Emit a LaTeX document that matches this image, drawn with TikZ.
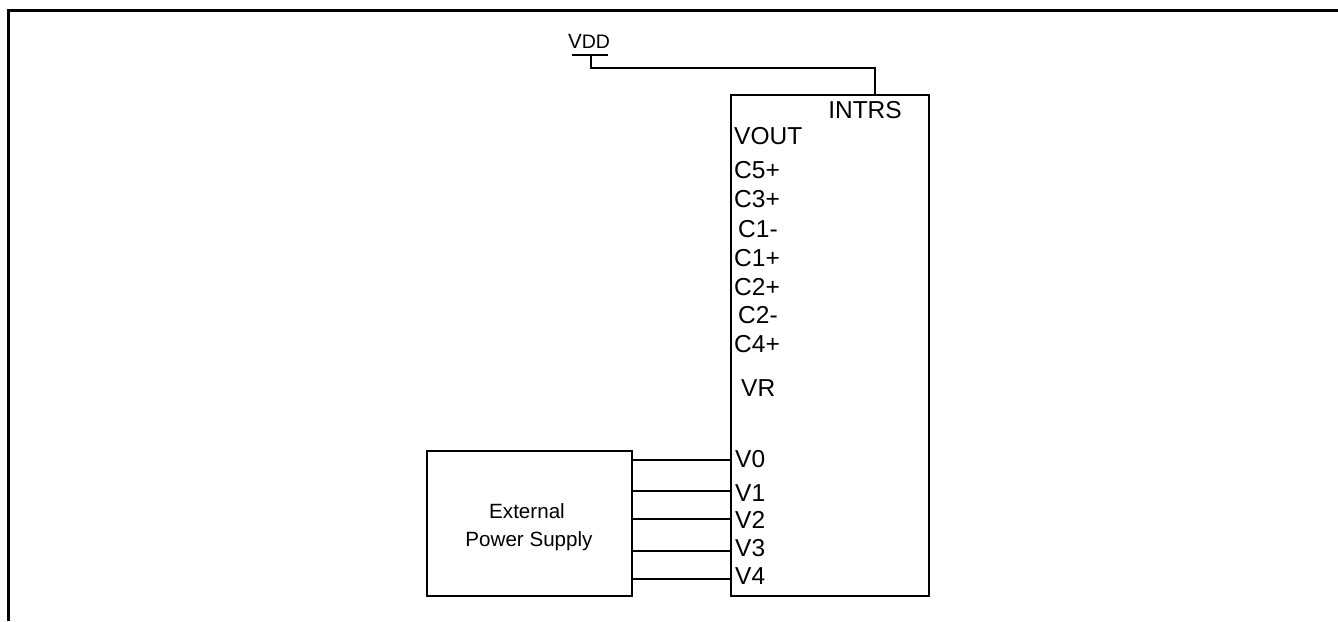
\documentclass[tikz,border=0pt]{standalone}
\usepackage{fontspec}
\setmainfont{Liberation Sans}
\begin{document}
\begin{tikzpicture}[x=1pt,y=-1pt,
  wire/.style={line width=2pt},
  pin/.style={anchor=base west,inner sep=0pt,font=\fontsize{24.5}{28}\selectfont},
  lbl/.style={inner sep=0pt,font=\fontsize{20.6}{24}\selectfont}]
\useasboundingbox (0,0) rectangle (1338,621);
% frame
\draw[line width=3pt] (8,621) -- (8,10.5) -- (1338,10.5);
% IC box
\node[draw,line width=2pt,minimum width=198pt,minimum height=501pt,inner sep=0pt] (ic) at (830,345.5) {};
% external supply
\node[draw,line width=2pt,minimum width=205pt,minimum height=145pt,inner sep=0pt] (ext) at (529.5,523.5) {};
\node[lbl,anchor=base] (ext1) at (527,518) {External};
\node[lbl,anchor=base] (ext2) at (529,546) {Power Supply};
% VDD
\node[lbl,anchor=base] (vdd) at (589,48) {V{\fontsize{19.5}{22}\selectfont DD}};
\coordinate (vbarl) at (572,55);
\coordinate (vbarr) at (608,55);
\coordinate (vtop) at (591,55);
\coordinate (vbend) at (591,68);
\coordinate (ibend) at (875,68);
\coordinate (intrs) at (875,95);
\draw[wire] (vbarl) -- (vbarr);
\draw[wire] (vtop) -- (vbend) -- (ibend) -- (intrs);
% pin labels
\node[pin,anchor=base] (pINTRS) at (865,118) {INTRS};
\node[pin] (pVOUT) at (734,144) {VOUT};
\node[pin] (pC5p) at (734,178) {C5+};
\node[pin] (pC3p) at (734,207) {C3+};
\node[pin] (pC1m) at (738,237) {C1-};
\node[pin] (pC1p) at (734,266) {C1+};
\node[pin] (pC2p) at (734,295) {C2+};
\node[pin] (pC2m) at (738,323) {C2-};
\node[pin] (pC4p) at (734,352) {C4+};
\node[pin] (pVR) at (741,396) {VR};
\node[pin] (pV0) at (735,467) {V0};
\node[pin] (pV1) at (735,501) {V1};
\node[pin] (pV2) at (735,528) {V2};
\node[pin] (pV3) at (735,556) {V3};
\node[pin] (pV4) at (735,584) {V4};
% supply connections
\foreach \yy in {460,491,519,551,579}{
  \draw[wire] (ext.east |- 0,\yy) -- (ic.west |- 0,\yy);
}
\end{tikzpicture}
\end{document}
